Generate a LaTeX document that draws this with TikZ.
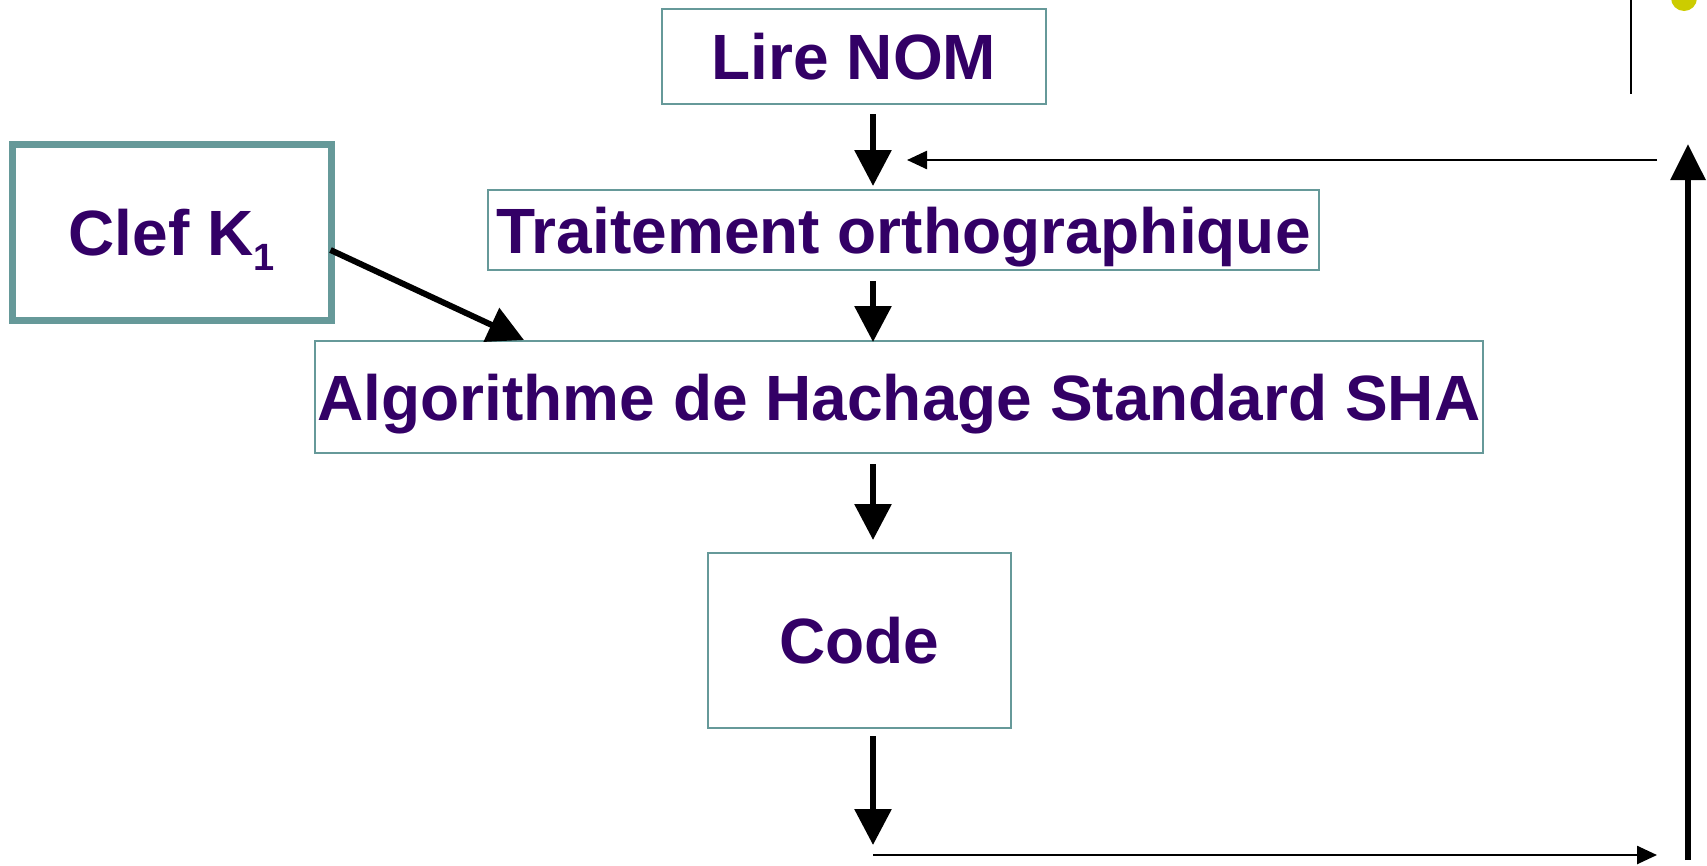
\documentclass[tikz,border=0pt]{standalone}
\usepackage{fontspec}
\setmainfont{Liberation Sans}
\usetikzlibrary{arrows.meta,calc}
\definecolor{ink}{HTML}{330066}
\definecolor{frame}{HTML}{669999}
\definecolor{dot}{HTML}{CCCC00}
\tikzset{
  stepbox/.style={draw=frame, line width=2pt, inner sep=0pt, text=ink,
    font=\fontsize{64}{64}\selectfont\bfseries, text height=46pt, text depth=0pt},
  keybox/.style={stepbox, line width=7pt},
  flow/.style={line width=6pt, -{Triangle[width=36pt,length=36pt]}},
  link/.style={line width=2.5pt, -{Triangle[width=18pt,length=20pt]}},
}
\begin{document}
\begin{tikzpicture}[x=1pt,y=-1pt]
\useasboundingbox (0,0) rectangle (1707,865);

% processing chain
\node[stepbox, minimum width=384pt, minimum height=95pt] (lire) at (854,56.5) {Lire NOM};
\node[stepbox, minimum width=831pt, minimum height=80pt] (trait) at (903.5,230) {Traitement orthographique};
\node[stepbox, minimum width=1168pt, minimum height=112pt] (algo) at (899,397) {Algorithme de Hachage Standard SHA};
\node[stepbox, minimum width=303pt, minimum height=175pt] (code) at (859.5,640.5) {Code};
\node[keybox, minimum width=319pt, minimum height=176pt] (clef) at (171.5,232)
  {Clef K\raisebox{-15pt}{\fontsize{38}{38}\selectfont 1}};

% vertical axis of the chain
\coordinate (axis) at (873,0);
\draw[flow, shorten <=9pt, shorten >=3pt] (lire.south -| axis) -- (trait.north -| axis);
\draw[flow, shorten <=10pt, shorten >=-2pt] (trait.south -| axis) -- (algo.north -| axis);
\draw[flow, shorten <=10pt, shorten >=12pt] (algo.south -| axis) -- (code.north -| axis);
\coordinate (drop) at (873,845);
\draw[flow, shorten <=7pt] (code.south -| axis) -- (drop);

% key into the hash
\draw[flow] ($(clef.east)+(-4,18)$) -- ($(algo.north west)+(210,0)$);

% feedback loop
\coordinate (out) at (873,855);
\coordinate (outend) at (1657,855);
\draw[link] (out) -- (outend);
\coordinate (retlow) at (1688,860);
\coordinate (rethigh) at (1688,144);
\draw[line width=6pt, -{Triangle[width=34pt,length=36pt]}] (retlow) -- (rethigh);
\coordinate (back) at (1657,160);
\draw[link, shorten >=34pt] (back) -- (back -| axis);

% corner marks
\draw[line width=2pt] (1631,0) -- (1631,94);
\fill[dot] (1684,-2) circle (13);
\end{tikzpicture}
\end{document}
